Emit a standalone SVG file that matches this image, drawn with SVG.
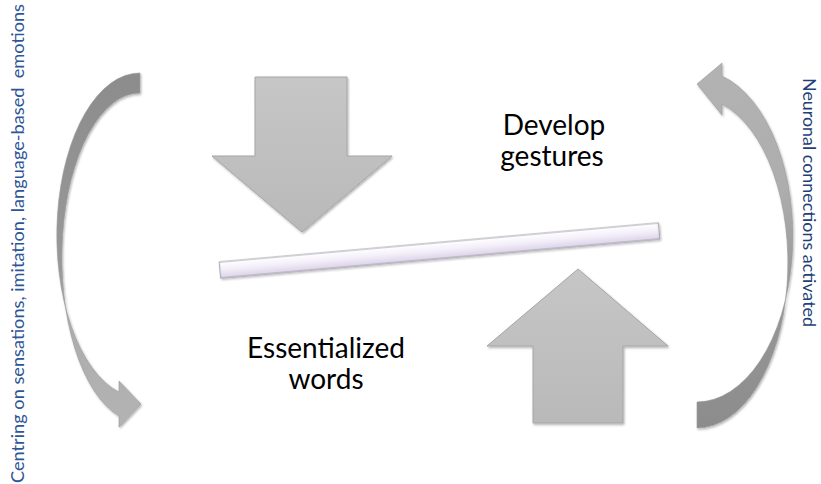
<svg xmlns="http://www.w3.org/2000/svg" width="821" height="484" viewBox="0 0 821 484">
<defs>
<style>
.big{fill:url(#bigGrad);stroke:#a6a6a6;stroke-width:1;filter:url(#shadow)}
.lbl{font-family:Lato,"Open Sans","Liberation Sans",sans-serif;font-size:28px;fill:#000;text-anchor:middle}
.side{font-family:Lato,"Open Sans","Liberation Sans",sans-serif;font-size:17px}
</style>
<linearGradient id="bigGrad" x1="0" y1="0" x2="0" y2="1">
<stop offset="0" stop-color="#c6c6c6"/>
<stop offset="1" stop-color="#b9b9b9"/>
</linearGradient>
<linearGradient id="leftGrad" gradientUnits="userSpaceOnUse" x1="0" y1="73" x2="0" y2="428">
<stop offset="0" stop-color="#8c8c8c"/>
<stop offset="0.55" stop-color="#999999"/>
<stop offset="0.72" stop-color="#adadad"/>
<stop offset="1" stop-color="#b3b3b3"/>
</linearGradient>
<linearGradient id="rightGrad" gradientUnits="userSpaceOnUse" x1="0" y1="63" x2="0" y2="428">
<stop offset="0" stop-color="#b3b3b3"/>
<stop offset="0.35" stop-color="#adadad"/>
<stop offset="0.6" stop-color="#999999"/>
<stop offset="1" stop-color="#8c8c8c"/>
</linearGradient>
<linearGradient id="barGrad" x1="0" y1="0" x2="0" y2="1">
<stop offset="0" stop-color="#ffffff"/>
<stop offset="0.45" stop-color="#f4f0fa"/>
<stop offset="1" stop-color="#dcd3e8"/>
</linearGradient>
<filter id="shadow" x="-10%" y="-10%" width="130%" height="130%">
<feDropShadow dx="1" dy="1.5" stdDeviation="1.2" flood-color="#000" flood-opacity="0.3"/>
</filter>
</defs>
<rect width="821" height="484" fill="#ffffff"/>

<g id="connectors">
<path id="left-curved-arrow" d="M140,73 A83,162.1 0 0,0 119,392 L119,381 L141,404 L119,427 L119,416 A78,164.5 0 0,1 140,93 Z" fill="url(#leftGrad)" stroke="#9a9a9a" stroke-width="0.6" filter="url(#shadow)"/>
<path id="right-curved-arrow" d="M697,402 A96,165.9 0 0,0 722,76 L722,63 L697,84 L722,115 L722,104 A91,165.2 0 0,1 697,428 Z" fill="url(#rightGrad)" stroke="#9a9a9a" stroke-width="0.6" filter="url(#shadow)"/>
</g>

<g id="down-arrow">
<path class="big" d="M255,77 L347,77 L347,156 L392,156 L302,232 L212,156 L255,156 Z"/>
</g>

<g id="up-arrow">
<path class="big" d="M578,269 L668,346 L623,346 L623,423 L533,423 L533,346 L487,346 Z"/>
</g>

<g id="balance-bar">
<rect x="-220.3" y="-8" width="440.6" height="16" fill="url(#barGrad)" stroke="#9c97a4" stroke-width="0.9" filter="url(#shadow)" transform="translate(439.5,250.5) rotate(-5.08)"/>
</g>

<g id="develop-gestures">
<text class="lbl" x="554" y="135">Develop</text>
<text class="lbl" x="552" y="166">gestures</text>
</g>

<g id="essentialized-words">
<text class="lbl" x="326" y="358">Essentialized</text>
<text class="lbl" x="326" y="389">words</text>
</g>

<g id="left-label">
<text class="side" fill="#2f5597" transform="translate(24,483) rotate(-90)" textLength="479" lengthAdjust="spacingAndGlyphs" xml:space="preserve">Centring on sensations, imitation, language-based  emotions</text>
</g>

<g id="right-label">
<text class="side" fill="#1f3f78" transform="translate(803,78) rotate(90)" textLength="249" lengthAdjust="spacingAndGlyphs">Neuronal connections activated</text>
</g>
</svg>
